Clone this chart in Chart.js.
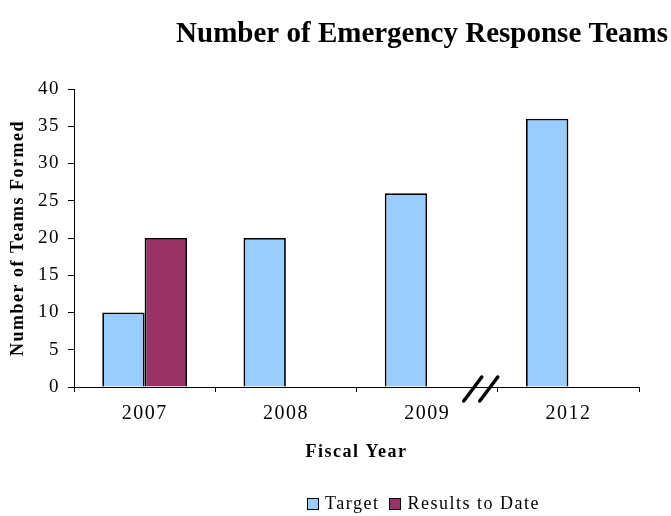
<!DOCTYPE html>
<html>
<head>
<meta charset="utf-8">
<script src="https://cdn.jsdelivr.net/npm/chart.js@4/dist/chart.umd.min.js"></script>
<style>
  body { margin: 0; background: #fff; }
  #wrap { position: relative; width: 671px; height: 516px; }
  #legend {
    position: absolute; top: 493px; left: 307px;
    font: 18px "Liberation Serif", serif; color: #000; letter-spacing: 1.5px;
    display: flex; align-items: center; white-space: nowrap;
  }
  #legend .sw { width: 10px; height: 10px; border: 1px solid #000; margin-right: 6px; }
  #legend .item { display: flex; align-items: center; margin-right: 10px; }
</style>
</head>
<body>
<div id="wrap">
  <canvas id="chart" width="671" height="516"></canvas>
  <div id="legend"></div>
</div>
<script>
// fiscal years and team counts
var years = ['2007', '2008', '2009', '2012'];
var targetTeams = [10, 20, 26, 36];
var resultsTeams = [20, null, null, null];
var seriesNames = ['Target', 'Results to Date'];
var seriesColors = ['#99CCFF', '#993366'];
var yTicks = [0, 5, 10, 15, 20, 25, 30, 35, 40];

var serif = '"Liberation Serif", "Times New Roman", serif';

// axis text is drawn a little spaced out
var spacingPlugin = {
  id: 'spacing',
  beforeDraw: function (chart) {
    chart.ctx.letterSpacing = '1.5px';
  }
};

// title drawn across the top, right side
var titlePlugin = {
  id: 'topTitle',
  afterDraw: function (chart) {
    var ctx = chart.ctx;
    ctx.save();
    ctx.letterSpacing = '0px';
    ctx.font = 'bold 29px ' + serif;
    ctx.fillStyle = '#000';
    ctx.textAlign = 'right';
    ctx.textBaseline = 'alphabetic';
    ctx.fillText('Number of Emergency Response Teams', chart.width - 3, 42);
    ctx.restore();
  }
};

// the "//" break on the x axis between 2009 and 2012
var breakPlugin = {
  id: 'axisBreak',
  afterDraw: function (chart) {
    var x = chart.scales.x;
    var ctx = chart.ctx;
    var edge = (x.getPixelForValue(2) + x.getPixelForValue(3)) / 2;
    var cx = edge - 17;
    var cy = chart.chartArea.bottom + 2;
    ctx.save();
    ctx.strokeStyle = '#000';
    ctx.lineWidth = 3.5;
    ctx.lineCap = 'round';
    [-8, 8].forEach(function (dx) {
      ctx.beginPath();
      ctx.moveTo(cx + dx - 9, cy + 12);
      ctx.lineTo(cx + dx + 9, cy - 12);
      ctx.stroke();
    });
    ctx.restore();
  }
};

var ctx = document.getElementById('chart').getContext('2d');
var chart = new Chart(ctx, {
  type: 'bar',
  data: {
    labels: years,
    datasets: [
      {
        label: seriesNames[0],
        data: targetTeams,
        backgroundColor: seriesColors[0],
        borderColor: '#000',
        borderWidth: 1.8
      },
      {
        label: seriesNames[1],
        data: resultsTeams,
        backgroundColor: seriesColors[1],
        borderColor: '#000',
        borderWidth: 1.8
      }
    ]
  },
  options: {
    responsive: false,
    animation: false,
    layout: { padding: { left: 0, right: 32, top: 89, bottom: 0 } },
    datasets: { bar: { categoryPercentage: 0.6, barPercentage: 1 } },
    plugins: {
      legend: { display: false },
      tooltip: { enabled: false }
    },
    scales: {
      x: {
        grid: { offset: true, drawOnChartArea: false, drawTicks: true, tickLength: 5, color: '#000' },
        border: { display: true, color: '#000', width: 1 },
        ticks: { color: '#000', padding: 10, font: { family: serif, size: 20 } },
        title: {
          display: true, text: 'Fiscal Year', color: '#000',
          font: { family: serif, size: 18, weight: 'bold' },
          padding: { top: 0, bottom: 53 }
        },
        afterFit: function (s) { s.height = 129; }
      },
      y: {
        min: 0, max: 40,
        afterBuildTicks: function (s) {
          s.ticks = yTicks.map(function (v) { return { value: v }; });
        },
        grid: { drawOnChartArea: false, drawTicks: true, tickLength: 6, color: '#000' },
        border: { display: true, color: '#000', width: 1 },
        ticks: { color: '#000', padding: 8, font: { family: serif, size: 19 } },
        title: {
          display: true, text: 'Number of Teams Formed', color: '#000',
          font: { family: serif, size: 18, weight: 'bold' },
          padding: { top: 8, bottom: 0 }
        },
        afterFit: function (s) { s.width = 74; }
      }
    }
  },
  plugins: [spacingPlugin, titlePlugin, breakPlugin]
});

// legend below the chart
var legend = document.getElementById('legend');
seriesNames.forEach(function (name, i) {
  var item = document.createElement('span');
  item.className = 'item';
  var sw = document.createElement('span');
  sw.className = 'sw';
  sw.style.background = seriesColors[i];
  item.appendChild(sw);
  item.appendChild(document.createTextNode(name));
  legend.appendChild(item);
});
</script>
</body>
</html>
